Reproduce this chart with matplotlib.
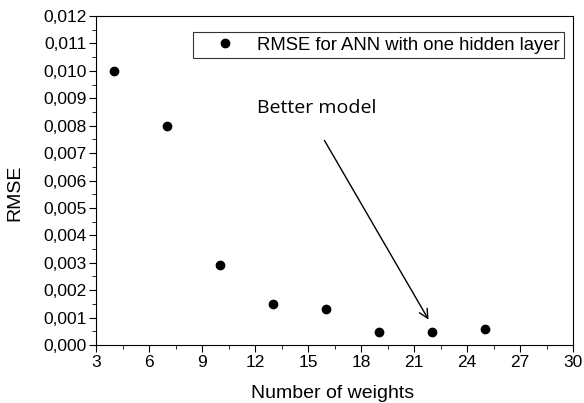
import matplotlib
matplotlib.use("Agg")
from matplotlib import pyplot as plt
from matplotlib.ticker import MultipleLocator, FuncFormatter

weights = [4, 7, 10, 13, 16, 19, 22, 25]
rmse = [0.0100, 0.0080, 0.0029, 0.0015, 0.0013, 0.00047, 0.00047, 0.00058]

plt.rcParams['font.family'] = ['Liberation Sans', 'DejaVu Sans']

fig = plt.figure(figsize=(5.84, 4.03), dpi=100)
ax = fig.add_axes([0.1644, 0.1439, 0.8168, 0.8164])

ax.plot(weights, rmse, 'o', color='k', markersize=6,
        label='RMSE for ANN with one hidden layer')

ax.set_xlim(3, 30)
ax.set_ylim(0, 0.012)
ax.xaxis.set_major_locator(MultipleLocator(3))
ax.xaxis.set_minor_locator(MultipleLocator(1.5))
ax.yaxis.set_major_locator(MultipleLocator(0.001))
ax.yaxis.set_minor_locator(MultipleLocator(0.0005))
ax.yaxis.set_major_formatter(FuncFormatter(lambda v, p: ('%.3f' % v).replace('.', ',')))
ax.tick_params(which='both', direction='out', top=False, right=False, labelsize=12.5)
ax.tick_params(which='major', length=5, pad=2)
ax.tick_params(which='minor', length=3)

ax.set_xlabel('Number of weights', fontsize=14)
ax.set_ylabel('RMSE', fontsize=14)
ax.xaxis.set_label_coords(0.495, -0.122)
ax.yaxis.set_label_coords(-0.153, 0.462)

leg = ax.legend(loc='upper right', bbox_to_anchor=(0.981, 0.951), fontsize=13.3,
                frameon=True, fancybox=False, edgecolor='k', handletextpad=0.2,
                borderpad=0.25, borderaxespad=0, handlelength=3.0)
leg.get_frame().set_linewidth(0.8)

ax.text(12.1, 0.00865, 'Better model', fontsize=14, family='Open Sans', va='center')
ax.annotate('', xy=(21.9, 0.00084), xytext=(15.85, 0.00755),
            arrowprops=dict(arrowstyle='->', color='k', lw=1.0, mutation_scale=16))

plt.savefig("out.png", dpi=100)
